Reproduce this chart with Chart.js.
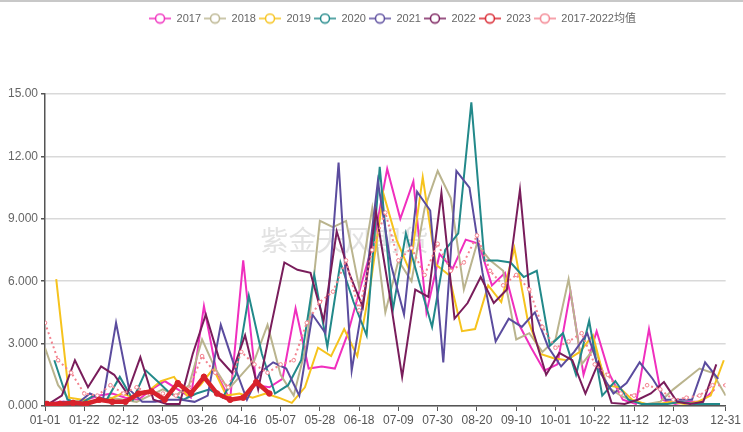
<!DOCTYPE html>
<html>
<head>
<meta charset="utf-8">
<script src="https://cdn.jsdelivr.net/npm/chart.js@4.4.1/dist/chart.umd.min.js"></script>
<style>
  html, body { margin: 0; padding: 0; background: #fff; }
  #wrap { width: 743px; height: 432px; position: relative; }
  #topline { position: absolute; left: 0; top: 0; width: 743px; height: 2px; background: #c8c8c8; }
</style>
</head>
<body>
<div id="wrap">
  <div id="topline"></div>
  <canvas id="chart" width="743" height="432"></canvas>
</div>
<script>
// Tick labels on the date axis (MM-DD)
const xTickLabels = ['01-01', '01-22', '02-12', '03-05', '03-26', '04-16', '05-07', '05-28', '06-18',
  '07-09', '07-30', '08-20', '09-10', '10-01', '10-22', '11-12', '12-03', '12-31'];
const yMax = 15;
const yStep = 3;

// Series names and the first weekly date of each one
const seriesNames = ['2017', '2018', '2019', '2020', '2021', '2022', '2023', '2017-2022均值'];
const startDates = ['2017-01-02', '2018-01-01', '2019-01-07', '2020-01-06', '2021-01-04', '2022-01-03', '2023-01-02', '2018-01-01'];

// Weekly values
const v2017 = [0.1, 0.2, 0.2, 0.3, 0.5, 0.6, 0.4, 0.3, 0.8, 1.2, 0.8, 0.4, 4.8, 1.5, 0.3, 7.0, 1.0, 0.9, 1.3, 4.7,
  1.8, 1.9, 1.8, 3.5, 5.8, 8.0, 11.4, 9.0, 10.8, 4.5, 7.3, 6.6, 8.0, 7.8, 5.8, 6.4, 4.0, 2.8, 1.7, 2.0,
  5.5, 1.5, 3.6, 1.5, 0.3, 0.1, 3.7, 0.3, 0.1, 0.2, 0.2, 0.8];
const v2018 = [2.8, 1.0, 0.2, 0.3, 0.2, 0.4, 0.3, 0.2, 0.5, 0.8, 0.5, 1.0, 3.2, 1.8, 0.8, 1.5, 2.2, 3.9, 1.5, 0.5,
  3.0, 8.9, 8.6, 8.9, 5.7, 9.5, 4.5, 7.0, 6.0, 9.5, 11.3, 10.0, 5.6, 7.8, 7.0, 6.5, 3.2, 3.5, 2.6, 3.2,
  6.1, 2.0, 2.8, 0.9, 0.5, 0.2, 0.1, 0.2, 0.8, 1.3, 1.8, 1.6, 0.5];
const v2019 = [6.1, 0.4, 0.3, 0.2, 0.3, 0.6, 0.4, 0.7, 1.2, 1.4, 0.5, 1.0, 1.8, 0.5, 0.6, 0.4, 0.6, 0.4, 0.15, 0.9,
  2.8, 2.4, 3.7, 2.4, 5.8, 10.2, 8.0, 6.5, 11.0, 6.8, 6.3, 3.6, 3.7, 5.8, 5.0, 7.6, 4.2, 2.5, 2.3, 2.2,
  2.6, 3.4, 1.0, 0.9, 0.3, 0.1, 0.1, 0.2, 0.1, 0.2, 0.5, 2.2];
const v2020 = [2.2, 0.3, 0.1, 0.5, 0.3, 1.4, 0.3, 1.7, 1.2, 0.6, 0.3, 0.6, 0.8, 0.4, 1.5, 5.3, 2.5, 0.6, 1.0, 2.2,
  6.3, 2.85, 6.9, 5.0, 3.4, 11.5, 4.6, 8.3, 6.0, 3.8, 7.5, 8.3, 14.6, 7.0, 7.0, 6.9, 6.2, 6.5, 2.9, 3.5,
  1.5, 4.1, 0.5, 1.2, 0.3, 0.1, 0.1, 0.1, 0.2, 0.1, 0.1, 0.1];
const v2021 = [0.1, 0.2, 0.1, 0.6, 0.3, 4.0, 0.8, 0.2, 0.2, 0.3, 0.3, 0.2, 0.5, 3.9, 2.0, 0.3, 1.6, 2.1, 1.8, 0.5,
  4.4, 3.5, 11.7, 1.7, 5.5, 10.8, 6.8, 4.4, 10.3, 9.4, 2.1, 11.3, 10.5, 6.4, 3.1, 4.2, 3.8, 4.5, 2.85, 1.9,
  2.6, 3.5, 1.6, 0.6, 1.1, 2.1, 1.3, 0.3, 0.3, 0.3, 2.1, 1.3];
const v2022 = [0.1, 0.5, 2.2, 0.9, 1.9, 1.5, 0.6, 2.35, 0.3, 0.1, 0.1, 2.5, 4.4, 2.3, 1.6, 3.4, 0.8, 3.9, 6.9, 6.55,
  6.4, 4.1, 8.4, 6.3, 4.75, 9.35, 5.5, 1.4, 5.6, 5.25, 10.25, 4.2, 4.95, 6.2, 4.95, 5.6, 10.4, 3.6, 1.5, 2.55,
  2.2, 0.6, 2.1, 0.15, 0.1, 0.3, 0.6, 1.15, 0.2, 0.1, 0.2, 2.0];
const v2023 = [0.1, 0.1, 0.15, 0.1, 0.3, 0.2, 0.2, 0.6, 0.7, 0.3, 1.1, 0.6, 1.4, 0.6, 0.3, 0.4, 1.15, 0.6];
const vAvg = [4.0, 2.2, 1.6, 0.6, 0.5, 1.0, 0.6, 0.9, 0.6, 0.6, 0.5, 0.8, 2.4, 1.6, 0.9, 2.6, 2.0, 1.6, 2.0, 2.2,
  4.0, 5.0, 5.5, 7.0, 4.6, 7.5, 9.3, 7.0, 7.6, 6.3, 7.8, 6.5, 6.9, 8.2, 6.5, 5.8, 6.3, 5.6, 3.8, 2.8,
  3.1, 3.5, 2.0, 1.5, 0.6, 0.5, 1.0, 0.8, 0.3, 0.4, 0.5, 1.0, 1.0];

const seriesValues = [v2017, v2018, v2019, v2020, v2021, v2022, v2023, vAvg];
const colors = ['#f02fbe', '#bab48e', '#f6c31d', '#22898a', '#5b4c9e', '#791d5b', '#d8222c', '#f3838f'];

const watermarkText = '紫金天风期货';
const fontFamily = '"Liberation Sans", "Noto Sans CJK SC", sans-serif';

// day of year for an MM-DD string, on a non-leap calendar
function dayOfYear(mmdd) {
  const parts = mmdd.split('-').map(Number);
  return Math.round((Date.UTC(2021, parts[0] - 1, parts[1]) - Date.UTC(2021, 0, 1)) / 86400000);
}
function pad(n) { return n < 10 ? '0' + n : '' + n; }

// attach each weekly value to its date on the MM-DD axis
function weeklyPoints(start, values) {
  const t0 = Date.parse(start + 'T00:00:00Z');
  return values.map((v, i) => {
    const d = new Date(t0 + i * 7 * 86400000);
    const mmdd = pad(d.getUTCMonth() + 1) + '-' + pad(d.getUTCDate());
    return { x: dayOfYear(mmdd), y: v };
  });
}

const xTickDays = xTickLabels.map(dayOfYear);

// legend marker: a short line with a hollow circle
function makeMarker(color) {
  const c = document.createElement('canvas');
  c.width = 22; c.height = 12;
  const g = c.getContext('2d');
  g.strokeStyle = color;
  g.lineWidth = 1.5;
  g.beginPath(); g.moveTo(0, 6); g.lineTo(22, 6); g.stroke();
  g.beginPath(); g.arc(11, 6, 4.5, 0, Math.PI * 2);
  g.fillStyle = '#fff'; g.fill(); g.stroke();
  return c;
}
const markers = colors.map(makeMarker);

const datasets = seriesNames.map((name, i) => {
  const isAvg = i === 7;
  const is2023 = i === 6;
  return {
    label: name,
    data: weeklyPoints(startDates[i], seriesValues[i]),
    borderColor: colors[i],
    backgroundColor: colors[i],
    borderWidth: is2023 ? 4.5 : 2,
    borderDash: isAvg ? [2, 3] : [],
    pointRadius: is2023 ? 2.8 : (isAvg ? 1.8 : 0),
    pointBackgroundColor: isAvg ? '#fff' : colors[i],
    pointBorderWidth: 1,
    tension: 0,
    order: is2023 ? 0 : (isAvg ? 1 : 10 - i)
  };
});

const watermark = {
  id: 'watermark',
  beforeDatasetsDraw(chart) {
    const { ctx, chartArea } = chart;
    ctx.save();
    ctx.font = '28px "Noto Sans CJK SC"';
    ctx.fillStyle = 'rgba(190,190,190,0.45)';
    ctx.textAlign = 'center';
    ctx.textBaseline = 'middle';
    ctx.fillText(watermarkText, chartArea.left + chartArea.width * 0.44, chartArea.top + chartArea.height * 0.47);
    ctx.restore();
  }
};

// legend block tall enough to push the plot down, drawn a bit right of centre
const legendSpace = {
  id: 'legendSpace',
  beforeInit(chart) {
    const legend = chart.legend;
    const fit = legend.fit;
    legend.fit = function () {
      fit.call(this);
      this.height = 84;
    };
    const draw = legend.draw;
    legend.draw = function () {
      const ctx = this.ctx;
      ctx.save();
      ctx.translate(22, 0);
      draw.apply(this, arguments);
      ctx.restore();
    };
  }
};

new Chart(document.getElementById('chart'), {
  type: 'line',
  data: { datasets },
  options: {
    responsive: false,
    animation: false,
    layout: { padding: { top: 10, right: 2, left: 0, bottom: 0 } },
    plugins: {
      tooltip: { enabled: false },
      legend: {
        position: 'top',
        labels: {
          usePointStyle: true,
          pointStyleWidth: 22,
          padding: 3,
          color: '#666',
          font: { family: fontFamily, size: 11 },
          sort: (a, b) => a.datasetIndex - b.datasetIndex,
          generateLabels(chart) {
            const items = Chart.defaults.plugins.legend.labels.generateLabels(chart);
            items.forEach(it => { it.pointStyle = markers[it.datasetIndex]; });
            return items;
          }
        }
      }
    },
    scales: {
      x: {
        type: 'linear',
        min: 0,
        max: 364,
        afterBuildTicks(axis) { axis.ticks = xTickDays.map(v => ({ value: v })); },
        afterFit(axis) { axis.height = 26; },
        ticks: {
          autoSkip: false,
          maxRotation: 0,
          padding: 2,
          color: '#555',
          font: { family: fontFamily, size: 12 },
          callback(value) {
            const k = xTickDays.indexOf(value);
            return k >= 0 ? xTickLabels[k] : '';
          }
        },
        grid: { drawOnChartArea: false, drawTicks: true, tickLength: 5, tickColor: '#555' },
        border: { color: '#555', width: 1.5 }
      },
      y: {
        min: 0,
        max: yMax,
        afterFit(axis) { axis.width = 45; },
        ticks: {
          stepSize: yStep,
          padding: 3,
          color: '#666',
          font: { family: fontFamily, size: 12 },
          callback(value) { return Number(value).toPrecision(4); }
        },
        grid: { color: '#d9d9d9', lineWidth: 1.5, tickLength: 4, tickColor: '#555' },
        border: { color: '#555', width: 1.5 }
      }
    }
  },
  plugins: [watermark, legendSpace]
});
</script>
</body>
</html>
